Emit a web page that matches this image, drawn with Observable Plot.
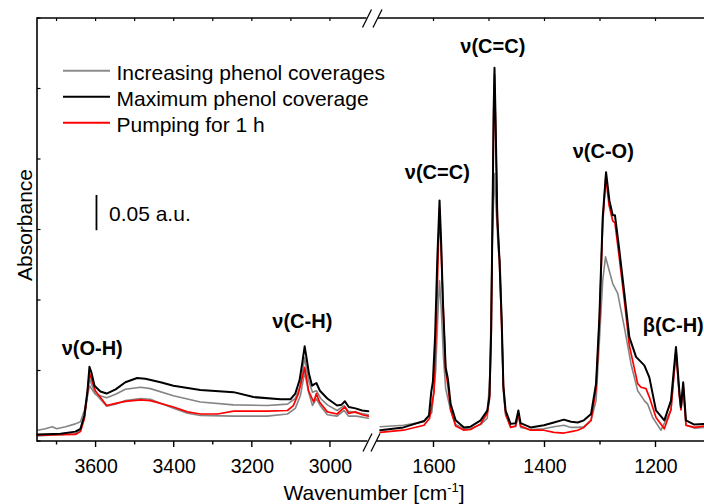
<!DOCTYPE html>
<html><head><meta charset="utf-8">
<script src="https://cdn.jsdelivr.net/npm/d3@7"></script>
<script src="https://cdn.jsdelivr.net/npm/@observablehq/plot@0.6"></script>
<style>
html,body{margin:0;padding:0;background:#fff;}
#wrap{position:relative;width:704px;height:504px;overflow:hidden;}
</style></head><body><div id="wrap"></div>
<script>
// ---------- axis / tick values ----------
const xDomain = [3750, 2900, 1700, 1100];       // broken wavenumber axis (two panels)
const majorTicks = [3600, 3400, 3200, 3000, 1600, 1400, 1200];
const minorTicks = [3700, 3500, 3300, 3100, 1500, 1300];
const yTicks = [0, 0.1, 0.2, 0.3, 0.4, 0.5, 0.6];

// ---------- series: left panel (3750-2900 cm-1) ----------
const blackLeftWn = [3750,3691,3653,3640,3630,3622,3617,3612,3604,3589,3573,3550,3525,3495,3474,3435,3402,3333,3248,3197,3128,3102,3090,3079,3072,3066,3061,3055,3047,3042,3036,3027,3008,2983,2972,2963,2953,2936,2919,2903];
const blackLeftA  = [0.010,0.011,0.014,0.018,0.037,0.072,0.106,0.098,0.079,0.071,0.068,0.074,0.084,0.090,0.089,0.084,0.079,0.073,0.070,0.063,0.060,0.060,0.068,0.087,0.112,0.135,0.118,0.096,0.079,0.081,0.083,0.072,0.061,0.051,0.052,0.057,0.049,0.047,0.044,0.043];

const greyALeftWn = [3750,3730,3712,3701,3678,3653,3640,3630,3622,3617,3612,3602,3573,3550,3525,3486,3461,3402,3333,3248,3162,3110,3090,3077,3066,3056,3046,3036,3025,3008,2983,2965,2954,2934,2903];
const greyALeftA  = [0.016,0.018,0.021,0.018,0.021,0.025,0.028,0.044,0.065,0.079,0.075,0.067,0.062,0.067,0.074,0.077,0.075,0.065,0.056,0.052,0.051,0.053,0.061,0.079,0.119,0.087,0.070,0.072,0.061,0.052,0.044,0.051,0.043,0.041,0.038];

const greyBLeftWn = [3750,3653,3640,3630,3622,3617,3612,3602,3573,3550,3525,3486,3461,3402,3366,3333,3248,3162,3110,3090,3077,3066,3056,3046,3036,3025,3008,2983,2965,2954,2934,2903];
const greyBLeftA  = [0.008,0.011,0.016,0.033,0.065,0.089,0.082,0.068,0.050,0.053,0.058,0.061,0.060,0.047,0.040,0.037,0.036,0.036,0.039,0.047,0.065,0.098,0.070,0.051,0.061,0.050,0.038,0.036,0.044,0.036,0.036,0.033];

const redLeftWn = [3750,3653,3640,3630,3622,3617,3612,3602,3573,3550,3525,3486,3461,3402,3366,3333,3289,3248,3162,3110,3095,3082,3066,3056,3043,3036,3028,3008,2983,2963,2954,2936,2919,2903];
const redLeftA  = [0.009,0.010,0.014,0.033,0.070,0.097,0.089,0.072,0.051,0.054,0.057,0.059,0.058,0.049,0.042,0.039,0.039,0.043,0.043,0.044,0.051,0.068,0.105,0.072,0.056,0.068,0.056,0.042,0.039,0.049,0.040,0.042,0.038,0.036];

// ---------- series: right panel (1700-1100 cm-1) ----------
const blackRightWn = [1697,1655,1618,1609,1605,1602,1598,1594,1590,1587,1584,1579,1575,1570,1561,1546,1534,1516,1504,1500,1497,1494,1492.5,1491,1489,1486,1482,1478,1475,1471,1462,1453,1448,1444,1426,1402,1384,1366,1353,1341,1330,1317,1308,1302,1296,1290,1284,1278,1274,1266,1257,1248,1236,1221,1212,1200,1185,1173,1164,1158,1155,1151,1146,1131,1113];
const blackRightA  = [0.016,0.020,0.029,0.037,0.070,0.085,0.15,0.26,0.342,0.28,0.20,0.105,0.089,0.053,0.030,0.020,0.021,0.030,0.044,0.065,0.157,0.36,0.47,0.53,0.455,0.32,0.257,0.172,0.079,0.044,0.025,0.026,0.044,0.026,0.020,0.023,0.027,0.031,0.028,0.027,0.030,0.039,0.082,0.176,0.318,0.382,0.342,0.321,0.321,0.271,0.210,0.148,0.120,0.108,0.091,0.044,0.030,0.058,0.134,0.072,0.049,0.084,0.030,0.024,0.025];

const redRightWn = [1697,1655,1618,1608,1600,1595,1592,1590,1587.5,1584,1579,1575,1570,1561,1546,1534,1516,1504,1500,1497,1494.4,1492.6,1491,1489.2,1485.6,1482,1478.4,1474.8,1471,1462,1453,1448,1444,1426,1402,1384,1366,1353,1341,1330,1317,1308,1302,1296,1290.5,1284.5,1278,1274,1266,1257,1248,1233,1227,1218,1212,1200,1185,1173,1164,1158,1155,1151,1146,1131,1113];
const redRightA  = [0.013,0.016,0.023,0.033,0.070,0.19,0.28,0.33,0.28,0.20,0.10,0.08,0.045,0.022,0.016,0.017,0.025,0.040,0.060,0.15,0.33,0.46,0.52,0.45,0.31,0.255,0.17,0.075,0.040,0.020,0.022,0.040,0.022,0.016,0.016,0.013,0.012,0.014,0.016,0.020,0.030,0.075,0.17,0.31,0.375,0.335,0.313,0.31,0.26,0.20,0.136,0.082,0.077,0.075,0.063,0.034,0.018,0.045,0.129,0.065,0.045,0.079,0.023,0.020,0.022];

const greyBRightWn = [1697,1655,1618,1604,1597,1593,1590,1587,1583,1579,1570,1561,1546,1534,1516,1504,1499,1495,1491,1488,1484,1481,1478,1475,1471,1462,1453,1448,1444,1426,1402,1384,1366,1353,1341,1330,1317,1308,1302,1296,1291,1284.5,1278,1269,1257,1245,1233,1221,1215,1206,1191,1173,1164,1158,1155,1151,1146,1131,1113];
const greyBRightA  = [0.021,0.023,0.028,0.041,0.10,0.18,0.228,0.19,0.12,0.075,0.044,0.024,0.018,0.018,0.024,0.033,0.10,0.285,0.38,0.33,0.27,0.255,0.172,0.07,0.037,0.021,0.021,0.037,0.020,0.017,0.018,0.021,0.023,0.020,0.020,0.021,0.030,0.058,0.143,0.228,0.262,0.243,0.224,0.210,0.162,0.110,0.072,0.058,0.053,0.034,0.016,0.045,0.129,0.065,0.045,0.079,0.023,0.019,0.020];

// ---------- annotations ----------
const labelText = ["ν(O-H)", "ν(C-H)", "ν(C=C)", "ν(C=C)", "ν(C-O)", "β(C-H)"];
const labelWn   = [3610, 3072, 1594, 1494, 1295, 1169];
const labelA    = [0.132, 0.170, 0.381, 0.560, 0.411, 0.165];

const scaleBarWn = 3599, scaleBarA0 = 0.299, scaleBarLen = 0.05;
const scaleBarText = "0.05 a.u.", scaleBarTextWn = 3567, scaleBarTextA = 0.322;

const legendLabels = ["Increasing phenol coverages", "Maximum phenol coverage", "Pumping for 1 h"];
const legendColors = ["#8c8c8c", "#000000", "#ff0000"];

// ---------- build tables ----------
const toRows = (panel, wn, a) => wn.map((w, i) => ({panel, wn: w, a: a[i]}));
const greyARows = toRows("L", greyALeftWn, greyALeftA);
const greyBRows = [...toRows("L", greyBLeftWn, greyBLeftA), ...toRows("R", greyBRightWn, greyBRightA)];
const redRows   = [...toRows("L", redLeftWn, redLeftA), ...toRows("R", redRightWn, redRightA)];
const blackRows = [...toRows("L", blackLeftWn, blackLeftA), ...toRows("R", blackRightWn, blackRightA)];
const labels = labelText.map((t, i) => ({t, wn: labelWn[i], a: labelA[i]}));

const FONT = "Liberation Sans, Arial, Helvetica, sans-serif";

// frame, inward ticks and axis-break marks drawn from the scales
function decorations(index, scales) {
  const X = scales.x, Y = scales.y;
  const g = d3.create("svg:g").attr("fill", "none").attr("stroke", "#000").attr("stroke-width", 1.6);
  const seg = (x1, y1, x2, y2, w) => g.append("line").attr("x1", x1).attr("y1", y1).attr("x2", x2).attr("y2", y2).attr("stroke-width", w || 1.6);
  const xl = X(xDomain[0]), xle = X(xDomain[1]), xrs = X(xDomain[2]), xre = X(xDomain[3]);
  const yb = Y(yTicks[0]), yt = Y(yTicks[yTicks.length - 1]);
  seg(xl, yt - 0.8, xl, yb + 0.8);
  seg(xl, yb, xle - 1.5, yb); seg(xrs - 1.5, yb, xre, yb);
  seg(xl, yt, xle - 2.5, yt); seg(xrs, yt, xre, yt);
  yTicks.forEach(t => seg(xl, Y(t), xl + 3.5, Y(t), 1.2));
  majorTicks.forEach(t => seg(X(t), yb, X(t), yb + 6, 1.4));
  minorTicks.forEach(t => seg(X(t), yb, X(t), yb + 3.5, 1.4));
  [...majorTicks, ...minorTicks].forEach(t => seg(X(t), yt, X(t), yt + 3, 1.2));
  for (const [cx, cy] of [[xle - 2, yt + 0.5], [xrs - 0.5, yt + 0.5], [xle - 1.5, yb + 1.5], [xrs - 2.5, yb + 1.5]]) {
    seg(cx - 4.5, cy + 9, cx + 4.5, cy - 9, 1.3);
  }
  return g.node();
}

const plot = Plot.plot({
  width: 704, height: 504,
  marginLeft: 37, marginRight: 0, marginTop: 18, marginBottom: 63,
  style: {fontFamily: FONT, fontSize: "19.5px", color: "#000", background: "#fff"},
  x: {type: "linear", domain: xDomain, range: [37, 369, 378, 711]},
  y: {domain: [0, 0.6], range: [441, 18], axis: null},
  marks: [
    Plot.line(greyARows, {x: "wn", y: "a", z: "panel", stroke: "#858585", strokeWidth: 1.6}),
    Plot.line(greyBRows, {x: "wn", y: "a", z: "panel", stroke: "#858585", strokeWidth: 1.6}),
    Plot.line(redRows, {x: "wn", y: "a", z: "panel", stroke: "#ff0000", strokeWidth: 1.7}),
    Plot.line(blackRows, {x: "wn", y: "a", z: "panel", stroke: "#000", strokeWidth: 2}),
    Plot.axisX({ticks: majorTicks, tickSize: 0, tickPadding: 18, label: null, tickFormat: d => String(d)}),
    Plot.ruleX([scaleBarWn], {y1: scaleBarA0, y2: scaleBarA0 + scaleBarLen, stroke: "#000", strokeWidth: 1.8}),
    Plot.text([scaleBarText], {x: scaleBarTextWn, y: scaleBarTextA, text: d => d, textAnchor: "start", fontSize: 21, fill: "#000"}),
    Plot.text(labels, {x: "wn", y: "a", text: "t", fontSize: 20, fontWeight: "bold", fill: "#000"}),
    decorations
  ]
});

const svg = d3.select(plot);
// axis titles
svg.append("text").attr("transform", "translate(31.5,225) rotate(-90)").attr("text-anchor", "middle")
  .attr("font-size", 21).attr("font-family", FONT).attr("fill", "#000").text("Absorbance");
const xt = svg.append("text").attr("x", 374).attr("y", 500).attr("text-anchor", "middle")
  .attr("font-size", 21).attr("font-family", FONT).attr("fill", "#000");
xt.append("tspan").text("Wavenumber [cm");
xt.append("tspan").attr("dy", -8).attr("font-size", 13).text("-1");
xt.append("tspan").attr("dy", 8).text("]");
// legend
const lg = svg.append("g").attr("font-family", FONT).attr("font-size", 21).attr("text-anchor", "start");
legendLabels.forEach((lab, i) => {
  const yl = 70.7 + i * 26;
  lg.append("line").attr("x1", 63).attr("x2", 110).attr("y1", yl).attr("y2", yl)
    .attr("stroke", legendColors[i]).attr("stroke-width", 2);
  lg.append("text").attr("x", 116.5).attr("y", yl + 8.8).attr("text-anchor", "start").attr("fill", "#000").text(lab);
});

document.getElementById("wrap").appendChild(plot);
</script>
</body></html>
